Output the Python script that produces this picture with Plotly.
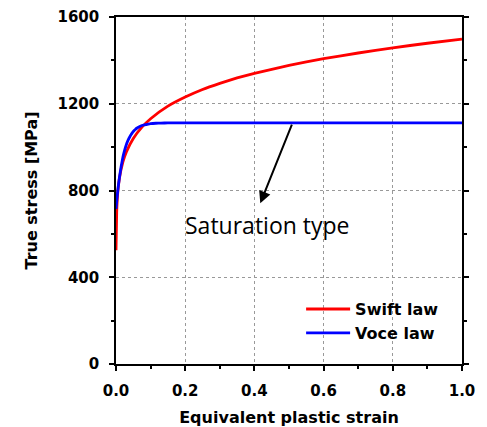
import plotly.graph_objects as go

# Swift law
swift_strain = [0, 0.002, 0.005, 0.01, 0.02, 0.03, 0.05, 0.075, 0.1, 0.15, 0.2, 0.25,
                0.3, 0.35, 0.4, 0.45, 0.5, 0.6, 0.7, 0.8, 0.9, 1.0]
swift_stress = [525, 700, 790, 858, 932, 978, 1040, 1092, 1131, 1189, 1231, 1266,
                1294, 1319, 1340, 1359, 1377, 1408, 1434, 1458, 1479, 1498]

# Voce law
voce_strain = [0, 0.0025, 0.005, 0.0075, 0.01, 0.015, 0.02, 0.025, 0.03, 0.035, 0.04,
               0.045, 0.05, 0.055, 0.06, 0.07, 0.08, 0.09, 0.1, 0.115, 0.13, 0.15,
               0.2, 0.3, 0.5, 0.75, 1.0]
voce_stress = [715, 758, 797, 831, 861, 912, 954, 986, 1012, 1032, 1048,
               1061, 1072, 1080, 1087, 1096, 1102, 1105, 1108, 1110, 1111, 1111.5,
               1112, 1112, 1112, 1112, 1112]

x_ticks = [0.0, 0.2, 0.4, 0.6, 0.8, 1.0]
x_tick_labels = ["0.0", "0.2", "0.4", "0.6", "0.8", "1.0"]
y_ticks = [0, 400, 800, 1200, 1600]
y_tick_labels = ["0", "400", "800", "1200", "1600"]

font_bold = "DejaVu Sans"

fig = go.Figure()
fig.add_trace(go.Scatter(x=swift_strain, y=swift_stress, mode="lines",
                         name="Swift law", line=dict(color="#ff0000", width=2.8, shape="spline", smoothing=0.4)))
fig.add_trace(go.Scatter(x=voce_strain, y=voce_stress, mode="lines",
                         name="Voce law", line=dict(color="#0000ff", width=2.8, shape="spline", smoothing=0.3)))

fig.add_annotation(x=0.417, y=741, ax=0.51, ay=1111, xref="x", yref="y", axref="x", ayref="y",
                   showarrow=True, arrowhead=2, arrowsize=1.2, arrowwidth=2, arrowcolor="black", text="")
fig.add_annotation(x=0.438, y=641, xref="x", yref="y", showarrow=False, text="Saturation type",
                   font=dict(family="Open Sans", size=23, color="black"))

tickfont = dict(family=font_bold, size=15, color="black", weight="bold")
titlefont = dict(family=font_bold, size=16, color="black", weight="bold")

axis_common = dict(showline=True, linecolor="black", linewidth=1.5, ticks="outside", ticklen=5,
                   tickwidth=1.5, tickcolor="black", showgrid=True, gridcolor="#999999",
                   griddash="dot", gridwidth=1, zeroline=False, tickfont=tickfont,
                   automargin=False, ticklabelstandoff=7)

fig.update_xaxes(range=[0, 1.0], tickvals=x_ticks, ticktext=x_tick_labels,
                 mirror=True,
                 minor=dict(dtick=0.1, ticks="outside", ticklen=3, tickcolor="black", showgrid=False),
                 title=dict(text="Equivalent plastic strain", font=titlefont, standoff=21),
                 **axis_common)
fig.update_yaxes(range=[0, 1600], tickvals=y_ticks, ticktext=y_tick_labels,
                 mirror="ticks",
                 minor=dict(dtick=200, ticks="outside", ticklen=3, tickcolor="black", showgrid=False),
                 title=dict(text="True stress [MPa]", font=titlefont, standoff=16),
                 **axis_common)

fig.update_layout(
    width=487, height=427,
    margin=dict(l=116, r=25, t=17, b=63),
    plot_bgcolor="white", paper_bgcolor="white",
    showlegend=True,
    legend=dict(x=0.535, y=0.04, xanchor="left", yanchor="bottom", bgcolor="rgba(0,0,0,0)",
                itemwidth=44,
                font=dict(family=font_bold, size=16, color="black", weight="bold"), tracegroupgap=0),
)

fig.write_html("out.html")
